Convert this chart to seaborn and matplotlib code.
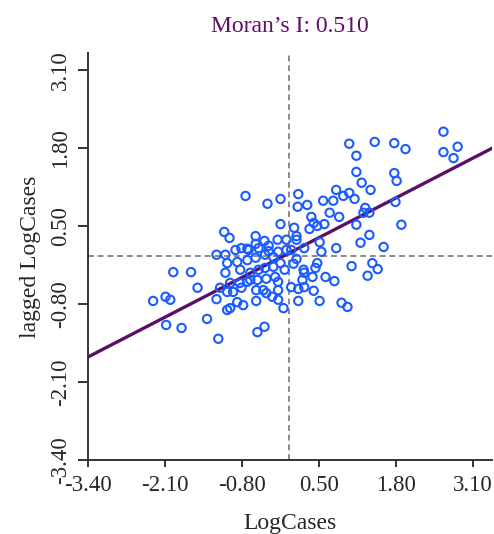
import matplotlib
matplotlib.use('Agg')
import matplotlib.pyplot as plt
import numpy as np
import pandas as pd
import seaborn as sns

# standardised log cases and their spatial lag
log_cases = [
    2.60, 1.01, 1.44, 1.77, 1.96, 2.60, 2.84, 2.77, 1.13, 1.13,
    1.77, 1.81, 1.22, 1.37, 0.79, 1.01, 0.91, 1.10, 0.57, 0.74,
    0.30, 1.79, 1.28, 1.25, 1.35, 0.68, 0.37, 0.84, 0.59, 0.34,
    0.41, 1.13, 1.89, 1.35, 0.47,
    -0.74, -0.37, -0.15, 0.15, 0.14, -0.15, 0.08, 0.12, -1.10, -1.01, -0.57,
    -0.42, -0.35, -0.57, -0.52, -0.20, -0.05, 0.12, -0.71, -0.35, -0.19,
    -0.05, 0.03, 0.25, 0.51, 0.54, 0.79, 1.20, 1.59, -1.23, -1.08,
    -0.91, -0.81, -0.69, -1.05, -0.88, -0.71, -0.57, -0.41, -0.27, -0.15,
    0.07, 0.12, 0.47, 0.44, 1.05, 1.40, 1.49, 1.32, -1.96, -1.66,
    -1.08, -0.83, -0.66, -0.52, -0.41, -0.27, -0.08, 0.24, 0.25,
    0.61, 0.76, 0.39, 0.22, -0.54, -0.39, -0.24, -0.66, -0.19, -1.55,
    -1.17, -1.00, -0.84, -0.71, -1.05, -0.95, -0.81, -0.56, -0.44, -0.19,
    0.03, 0.15, 0.25, 0.41, -0.39, -0.29, -2.30, -2.09, -2.01, -1.23,
    -0.88, -0.78, -1.05, -1.00, -0.56, -0.19, 0.15, 0.51, 0.88, 0.98,
    -0.10, -2.08, -1.82, -1.39, -0.54, -0.42, -1.20,
]
lagged_log_cases = [
    2.07, 1.87, 1.90, 1.88, 1.78, 1.73, 1.82, 1.63, 1.67, 1.40,
    1.38, 1.25, 1.22, 1.10, 1.10, 1.05, 1.00, 0.95, 0.92, 0.92,
    0.85, 0.90, 0.80, 0.72, 0.72, 0.72, 0.65, 0.65, 0.53, 0.45,
    0.55, 0.52, 0.52, 0.35, 0.50,
    1.00, 0.87, 0.95, 1.03, 0.82, 0.53, 0.47, 0.33, 0.40, 0.30, 0.33,
    0.25, 0.17, 0.20, 0.13, 0.27, 0.27, 0.27, 0.12, 0.08, 0.07,
    0.10, 0.10, 0.13, 0.23, 0.07, 0.13, 0.22, 0.15, 0.02, 0.02,
    0.10, 0.13, 0.10, -0.12, -0.10, -0.07, -0.03, 0.02, -0.02, -0.12,
    -0.13, -0.05, -0.12, -0.20, -0.17, -0.12, -0.22, -0.33, -0.27, -0.27,
    -0.28, -0.23, -0.28, -0.23, -0.20, -0.18, -0.23, -0.23, -0.28,
    -0.35, -0.42, -0.35, -0.40, -0.40, -0.38, -0.35, -0.40, -0.43, -0.53,
    -0.53, -0.45, -0.45, -0.43, -0.60, -0.60, -0.53, -0.57, -0.57, -0.57,
    -0.52, -0.55, -0.52, -0.58, -0.62, -0.68, -0.75, -0.68, -0.73, -0.72,
    -0.77, -0.82, -0.90, -0.87, -0.75, -0.73, -0.75, -0.75, -0.78, -0.85,
    -0.87, -1.15, -1.20, -1.05, -1.27, -1.18, -1.38,
]
moran_i = 0.510
intercept = 0.05
tick_values = [-3.40, -2.10, -0.80, 0.50, 1.80, 3.10]

df = pd.DataFrame({'LogCases': log_cases, 'lagged LogCases': lagged_log_cases})

sns.set_style('ticks')
plt.rcParams['font.family'] = ['Liberation Serif', 'DejaVu Serif']

fig = plt.figure(figsize=(4.94, 5.34), dpi=100)
ax = fig.add_axes([0.178, 0.1386, 0.818, 0.762])

ax.axvline(0, color='#8a8a8a', linestyle=(0, (3, 2)), linewidth=1.4, zorder=1)
ax.axhline(0, color='#8a8a8a', linestyle=(0, (3, 2)), linewidth=1.4, zorder=1)

sns.scatterplot(data=df, x='LogCases', y='lagged LogCases', ax=ax, marker='o',
                s=36, facecolors='none', edgecolors='#1a5cff', linewidth=1.5,
                zorder=3)

ax.axline((0, intercept), slope=moran_i, color='#5c0f66', linewidth=2.4, zorder=2)

ax.set_xlim(-3.4, 3.42)
ax.set_ylim(-3.4, 3.38)
ax.set_xticks(tick_values)
ax.set_yticks(tick_values)
ax.set_xticklabels([f'{v:.2f}' for v in tick_values], fontsize=16.5)
ax.set_yticklabels([f'{v:.2f}' for v in tick_values], fontsize=16.5,
                   rotation=90, va='center')
ax.tick_params(axis='y', length=7, width=1.4, color='#333333', pad=5)
ax.tick_params(axis='x', length=5, width=1.4, color='#333333', pad=6)
for side in ['left', 'bottom']:
    ax.spines[side].set_linewidth(1.4)
    ax.spines[side].set_color('#333333')
sns.despine(ax=ax)

ax.set_xlabel('LogCases', fontsize=17, labelpad=12)
ax.set_ylabel('lagged LogCases', fontsize=17, labelpad=7)
ax.set_title('Moran\u2019s I: 0.510', fontsize=17, color='#5c0f66', pad=15)

fig.savefig('out.png', dpi=100)
